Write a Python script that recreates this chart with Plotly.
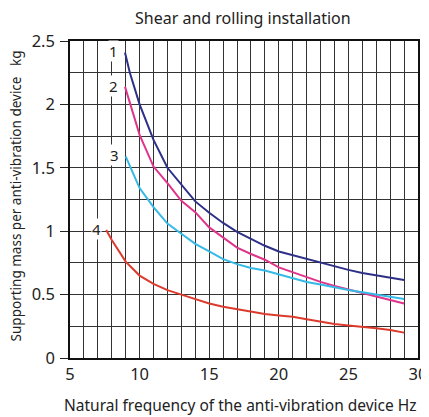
import plotly.graph_objects as go

# Data
f1 = [8.95, 9.3, 10, 11, 12, 13, 14, 15, 16, 17, 18, 19, 20, 21, 22, 23, 24, 25, 26, 27, 28, 29]
m1 = [2.41, 2.25, 2.00, 1.72, 1.50, 1.365, 1.235, 1.145, 1.065, 0.995, 0.94, 0.885, 0.84, 0.81, 0.78, 0.75, 0.725, 0.695, 0.67, 0.65, 0.63, 0.615]

f2 = [8.95, 9.35, 10, 11, 12, 13, 14, 15, 16, 17, 18, 19, 20, 21, 22, 23, 24, 25, 26, 27, 28, 29]
m2 = [2.14, 2.00, 1.76, 1.51, 1.38, 1.24, 1.15, 1.03, 0.95, 0.87, 0.82, 0.775, 0.715, 0.675, 0.635, 0.60, 0.568, 0.54, 0.51, 0.485, 0.458, 0.43]

f3 = [9.0, 9.8, 10, 11, 12, 13, 14, 15, 16, 17, 18, 19, 20, 21, 22, 23, 24, 25, 26, 27, 28, 29]
m3 = [1.59, 1.38, 1.34, 1.19, 1.06, 0.98, 0.90, 0.84, 0.78, 0.74, 0.71, 0.69, 0.66, 0.625, 0.60, 0.58, 0.557, 0.537, 0.518, 0.50, 0.483, 0.465]

f4 = [7.6, 8, 9, 10, 11, 12, 13, 14, 15, 16, 17, 18, 19, 20, 21, 22, 23, 24, 25, 26, 27, 28, 29]
m4 = [1.01, 0.93, 0.76, 0.65, 0.585, 0.535, 0.50, 0.465, 0.43, 0.405, 0.385, 0.365, 0.347, 0.335, 0.325, 0.305, 0.285, 0.268, 0.257, 0.247, 0.235, 0.22, 0.20]

x_ticks = [5, 10, 15, 20, 25, 30]
y_ticks = [0, 0.5, 1, 1.5, 2, 2.5]
y_ticktext = ["0", "0.5", "1", "1.5", "2", "2.5"]

series = [
    ("1", f1, m1, "#2e3088", 8.1, 2.42),
    ("2", f2, m2, "#e0348a", 8.1, 2.145),
    ("3", f3, m3, "#35b9e6", 8.2, 1.60),
    ("4", f4, m4, "#dc3a2c", 6.9, 1.02),
]

FONT = "Noto Sans"
TXT = "#222"
fig = go.Figure()
for name, xs, ys, col, lx, ly in series:
    fig.add_trace(go.Scatter(x=xs, y=ys, mode="lines", name=name,
                             line=dict(color=col, width=2), showlegend=False))
    fig.add_annotation(x=lx, y=ly, text=name, showarrow=False,
                       bgcolor="white", font=dict(size=15, color=TXT, family=FONT),
                       borderpad=0)

fig.add_annotation(xref="paper", yref="paper", x=0.49, y=-0.148, text="Natural frequency of the anti-vibration device Hz",
                   showarrow=False, xanchor="center", yanchor="middle",
                   font=dict(size=15.5, family=FONT, color=TXT))
fig.add_annotation(xref="paper", yref="paper", x=-0.155, y=0.51, text="Supporting mass per anti-vibration device   kg",
                   showarrow=False, xanchor="center", yanchor="middle", textangle=-90,
                   font=dict(size=13.5, family=FONT, color=TXT))
fig.add_annotation(xref="paper", yref="paper", x=0.497, y=1.0726, text="Shear and rolling installation",
                   showarrow=False, xanchor="center", yanchor="middle",
                   font=dict(size=16, family=FONT, color=TXT))

fig.update_layout(
    width=429, height=417,
    margin=dict(l=62, r=19, t=33, b=67, autoexpand=False),
    paper_bgcolor="white", plot_bgcolor="white",
    font=dict(family=FONT, color=TXT),
)
fig.update_xaxes(
    range=[5, 30], tickvals=x_ticks, ticks="", showgrid=True, automargin=False,
    gridcolor="#333", gridwidth=1,
    minor=dict(dtick=1, tick0=5, showgrid=True, gridcolor="#333", gridwidth=1),
    showline=True, linecolor="#111", linewidth=1.5, mirror=True,
    tickfont=dict(size=16.5, family=FONT, color=TXT),
    zeroline=False,
)
fig.update_yaxes(
    range=[0, 2.5], tickvals=y_ticks, ticktext=y_ticktext, automargin=False,
    ticks="outside", ticklen=8, tickcolor=TXT, ticklabelstandoff=2, showgrid=True,
    gridcolor="#333", gridwidth=1,
    minor=dict(dtick=0.25, tick0=0, showgrid=True, gridcolor="#333", gridwidth=1),
    showline=True, linecolor="#111", linewidth=1.5, mirror=True,
    tickfont=dict(size=16.5, family=FONT, color=TXT),
    zeroline=False,
)
fig.write_html("out.html")
